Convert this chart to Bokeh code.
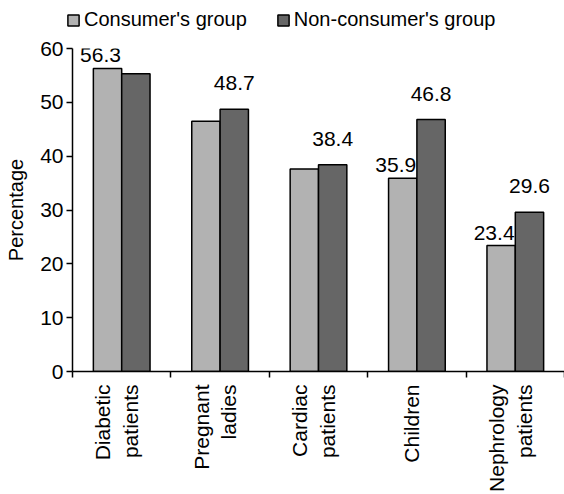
import numpy as np
from bokeh.plotting import figure
from bokeh.layouts import column
from bokeh.models import Range1d, FixedTicker, Legend, LegendItem
from bokeh.core.properties import value
from bokeh.embed import file_html
from bokeh.resources import INLINE

categories = ["Diabetic\npatients", "Pregnant\nladies", "Cardiac\npatients",
              "Children", "Nephrology\npatients"]
consumer = [56.3, 46.5, 37.6, 35.9, 23.4]
non_consumer = [55.3, 48.7, 38.4, 46.8, 29.6]
consumer_labelled = [True, False, False, True, True]
non_consumer_labelled = [False, True, True, True, True]
y_ticks = [0, 10, 20, 30, 40, 50, 60]
series_names = ["Consumer's group", "Non-consumer's group"]

FONT = "Liberation Sans"
LIGHT = "#b2b2b2"
DARK = "#666666"
n = len(categories)
centers = np.arange(n) + 0.5
bw = 0.288
off = 0.144

p = figure(width=564, height=458, x_range=Range1d(0, n), y_range=Range1d(0, 60),
           output_backend="svg", toolbar_location=None,
           min_border_left=72, min_border_right=0, min_border_bottom=122,
           min_border_top=12)
p.outline_line_color = None
p.xgrid.grid_line_color = None
p.ygrid.grid_line_color = None

p.vbar(x=centers - off, top=consumer, width=bw, fill_color=LIGHT,
       line_color="black", line_width=1.5)
p.vbar(x=centers + off, top=non_consumer, width=bw, fill_color=DARK,
       line_color="black", line_width=1.5)

# value labels
cx = [c - off for c, f in zip(centers, consumer_labelled) if f]
cy = [v for v, f in zip(consumer, consumer_labelled) if f]
p.text(x=cx, y=cy, text=[f"{v:.1f}" for v in cy], x_offset=-7, y_offset=-6,
       text_align="center", text_baseline="bottom",
       text_font=value(FONT), text_font_size="21px", text_color="black")
nx = [c + off for c, f in zip(centers, non_consumer_labelled) if f]
ny = [v for v, f in zip(non_consumer, non_consumer_labelled) if f]
p.text(x=nx, y=ny, text=[f"{v:.1f}" for v in ny], x_offset=0, y_offset=-19,
       text_align="center", text_baseline="bottom",
       text_font=value(FONT), text_font_size="21px", text_color="black")

# y axis
ya = p.yaxis[0]
ya.ticker = FixedTicker(ticks=y_ticks)
ya.axis_label = "Percentage"
ya.axis_label_text_font = FONT
ya.axis_label_text_font_style = "normal"
ya.axis_label_text_font_size = "20px"
ya.axis_label_text_color = "black"
ya.axis_label_standoff = 10
ya.major_label_text_font = FONT
ya.major_label_text_font_size = "21px"
ya.major_label_text_color = "black"
ya.major_label_standoff = 3
ya.major_tick_in = 0
ya.major_tick_out = 6
ya.minor_tick_line_color = None
ya.axis_line_width = 1.5
ya.major_tick_line_width = 1.5
ya.axis_line_color = "black"
ya.major_tick_line_color = "black"

# x axis
label_pos = centers - 0.05
xa = p.xaxis[0]
xa.ticker = FixedTicker(ticks=list(label_pos), minor_ticks=list(range(n + 1)))
xa.major_label_overrides = {float(c): lab for c, lab in zip(label_pos, categories)}
xa.major_label_orientation = np.pi / 2
xa.major_label_text_font = FONT
xa.major_label_text_font_size = "21px"
xa.major_label_text_color = "black"
xa.major_label_standoff = 7
xa.major_tick_line_color = None
xa.minor_tick_in = 0
xa.minor_tick_out = 6
xa.minor_tick_line_width = 1.5
xa.minor_tick_line_color = "black"
xa.axis_line_width = 1.5
xa.axis_line_color = "black"

# legend strip (hidden renderers only supply the legend swatches)
lg = figure(width=564, height=36, x_axis_type=None, y_axis_type=None,
            output_backend="svg", toolbar_location=None,
            min_border_left=0, min_border_right=0, min_border_top=0,
            min_border_bottom=0, x_range=Range1d(0, n), y_range=Range1d(0, 60))
lg.frame_align = False
lg.outline_line_color = None
lg.xgrid.grid_line_color = None
lg.ygrid.grid_line_color = None
e1 = lg.vbar(x=centers - off, top=consumer, width=bw, fill_color=LIGHT,
             line_color="black", line_width=1.5, visible=False)
e2 = lg.vbar(x=centers + off, top=non_consumer, width=bw, fill_color=DARK,
             line_color="black", line_width=1.5, visible=False)
legend = Legend(items=[LegendItem(label=series_names[0], renderers=[e1]),
                       LegendItem(label=series_names[1], renderers=[e2])],
                orientation="horizontal", location=(66, 5),
                glyph_width=14, glyph_height=14, label_height=14,
                label_standoff=4, spacing=29,
                padding=0, margin=0, border_line_color=None,
                background_fill_alpha=0, inactive_fill_alpha=0,
                label_text_color="black",
                label_text_font=FONT, label_text_font_size="20px")
lg.add_layout(legend, "center")

layout = column(lg, p, spacing=0)
open("out.html", "w").write(file_html(layout, INLINE))
